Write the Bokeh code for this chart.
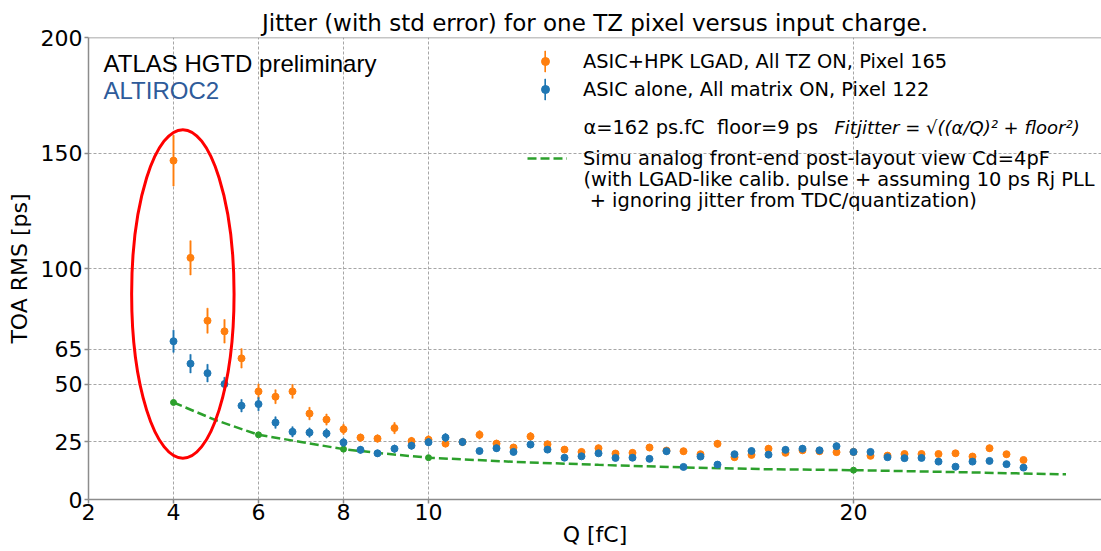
import math
from bokeh.plotting import figure
from bokeh.models import (Range1d, FixedTicker, Legend, LegendItem, Label, Span, Title,
                          ColumnDataSource)
from bokeh.embed import file_html
from bokeh.resources import INLINE

# ---------------- data ----------------
q_meas = [4.0, 4.4, 4.8, 5.2, 5.6, 6.0, 6.4, 6.8, 7.2, 7.6, 8.0, 8.4, 8.8, 9.2, 9.6, 10.0,
          10.4, 10.8, 11.2, 11.6, 12.0, 12.4, 12.8, 13.2, 13.6, 14.0, 14.4, 14.8, 15.2, 15.6,
          16.0, 16.4, 16.8, 17.2, 17.6, 18.0, 18.4, 18.8, 19.2, 19.6, 20.0, 20.4, 20.8, 21.2,
          21.6, 22.0, 22.4, 22.8, 23.2, 23.6, 24.0]

lgad_rms = [146.7, 104.6, 77.4, 72.8, 61.1, 46.8, 44.5, 46.8, 37.2, 34.6, 30.4, 26.8, 26.4, 30.9, 25.3, 25.9,
            24.2, 24.9, 28.0, 24.2, 22.5, 27.3, 23.9, 21.6, 20.6, 22.2, 19.9, 20.2, 22.5, 21.2,
            20.9, 19.6, 24.1, 18.3, 19.3, 22.0, 20.2, 21.3, 20.9, 20.5, 20.6, 18.9, 19.0, 19.7,
            19.7, 19.7, 20.0, 18.6, 22.2, 19.6, 17.1]
lgad_err = [11.0, 7.4, 5.4, 5.1, 4.2, 3.2, 3.0, 3.0, 2.7, 2.4, 2.2, 1.6, 1.6, 2.4, 1.6, 1.7,
            1.5, 1.5, 1.8, 1.5, 1.4, 1.7, 1.4, 1.3, 1.3, 1.4, 1.2, 1.2, 1.4, 1.3,
            1.3, 1.2, 1.5, 1.1, 1.2, 1.4, 1.2, 1.3, 1.3, 1.2, 1.2, 1.1, 1.1, 1.2,
            1.2, 1.2, 1.2, 1.1, 1.4, 1.2, 1.0]

asic_rms = [68.5, 58.8, 54.7, 50.0, 40.6, 41.3, 33.3, 29.3, 29.0, 28.6, 24.7, 21.5, 20.0, 22.0, 23.3, 24.8,
            26.8, 24.9, 21.0, 22.2, 20.6, 23.8, 21.6, 18.1, 18.7, 20.0, 18.0, 18.1, 17.6, 20.9,
            14.1, 18.6, 15.1, 19.6, 21.0, 19.4, 21.5, 22.0, 21.3, 23.1, 20.6, 20.6, 18.3, 17.9,
            18.0, 16.4, 14.2, 16.4, 16.7, 15.3, 13.8]
asic_err = [4.8, 4.0, 3.8, 2.9, 2.7, 2.9, 2.5, 2.2, 2.0, 2.0, 1.8, 1.5, 1.4, 1.6, 1.5, 1.6,
            1.8, 1.6, 1.3, 1.4, 1.3, 1.5, 1.3, 1.1, 1.1, 1.2, 1.1, 1.1, 1.0, 1.3,
            0.9, 1.1, 1.0, 1.2, 1.3, 1.2, 1.3, 1.4, 1.3, 1.4, 1.2, 1.2, 1.1, 1.1,
            1.1, 1.0, 0.9, 1.0, 1.0, 0.9, 0.9]

q_sim = [4, 5, 6, 7, 8, 9, 10, 12, 14, 16, 18, 20, 22, 25]
sim_rms = [42.0, 34.3, 28.0, 24.9, 21.8, 19.8, 18.1, 16.3, 15.0, 13.9, 13.1, 12.7, 12.0, 10.9]
q_sim_markers = [4, 6, 8, 10, 20]

x_ticks = [2, 4, 6, 8, 10, 20]
y_ticks = [0, 25, 50, 65, 100, 150, 200]

title_text = "Jitter (with std error) for one TZ pixel versus input charge."
label_lgad = "ASIC+HPK LGAD, All TZ ON, Pixel 165"
label_asic = "ASIC alone, All matrix ON, Pixel 122"
label_fit = "\u03b1=162 ps.fC \u00a0floor=9 ps"
label_fit_formula = "Fitjitter = \u221a((\u03b1/Q)\u00b2 + floor\u00b2)"
label_sim = ["Simu analog front-end post-layout view Cd=4pF",
             "(with LGAD-like calib. pulse + assuming 10 ps Rj PLL",
             "\u00a0+ ignoring jitter from TDC/quantization)"]

ORANGE = "#ff7f0e"
BLUE = "#1f77b4"
GREEN = "#2ca02c"
SPINE = "#8c8c8c"
FONT = "DejaVu Sans"

# ---------------- figure ----------------
p = figure(width=1101, height=551, output_backend="svg", toolbar_location=None,
           x_range=Range1d(2, 25.835), y_range=Range1d(0, 200),
           min_border_left=88, min_border_right=0, min_border_top=37, min_border_bottom=52)
p.outline_line_color = None
p.background_fill_color = "white"

p.title = Title(text=title_text, align="center", text_font=FONT, text_font_size="23px",
                text_font_style="normal", text_color="black", standoff=3)

for ax in (p.xaxis[0], p.yaxis[0]):
    ax.axis_line_color = SPINE
    ax.axis_line_width = 1.5
    ax.major_tick_line_color = SPINE
    ax.major_tick_line_width = 1.5
    ax.major_tick_out = 4
    ax.major_tick_in = 0
    ax.minor_tick_line_color = None
    ax.major_label_text_font = FONT
    ax.major_label_text_font_size = "22px"
    ax.major_label_text_color = "black"
    ax.axis_label_text_font = FONT
    ax.axis_label_text_font_size = "22px"
    ax.axis_label_text_font_style = "normal"
    ax.axis_label_text_color = "black"

p.xaxis.ticker = FixedTicker(ticks=x_ticks)
p.yaxis.ticker = FixedTicker(ticks=y_ticks)
p.xaxis.axis_label = "Q [fC]"
p.yaxis.axis_label = "TOA RMS [ps]"
p.xaxis.major_label_standoff = 0
p.xaxis.axis_label_standoff = -1
p.yaxis.major_label_standoff = 2
p.yaxis.axis_label_standoff = 6

p.xgrid.ticker = FixedTicker(ticks=x_ticks)
p.ygrid.ticker = FixedTicker(ticks=y_ticks)
for g in (p.xgrid[0], p.ygrid[0]):
    g.grid_line_color = "#a6a6a6"
    g.grid_line_width = 1
    g.grid_line_dash = "3 2"

p.add_layout(Span(location=200, dimension="width", line_color=SPINE, line_width=1.5))

# ---------------- data marks ----------------
sim_line = p.line(q_sim, sim_rms, line_color=GREEN, line_width=2.5, line_dash="9 4")
sim_pts_y = [sim_rms[q_sim.index(q)] for q in q_sim_markers]
p.scatter(q_sim_markers, sim_pts_y, size=6, color=GREEN)

lgad_src = ColumnDataSource(dict(q=q_meas, v=lgad_rms,
                                 lo=[v - e for v, e in zip(lgad_rms, lgad_err)],
                                 hi=[v + e for v, e in zip(lgad_rms, lgad_err)]))
asic_src = ColumnDataSource(dict(q=q_meas, v=asic_rms,
                                 lo=[v - e for v, e in zip(asic_rms, asic_err)],
                                 hi=[v + e for v, e in zip(asic_rms, asic_err)]))

# error bars drawn as very thin bars (so the legend can show them as vertical strokes)
lgad_bars = p.vbar(x="q", bottom="lo", top="hi", width=0.03, source=lgad_src,
                   fill_color=ORANGE, line_color=ORANGE, line_width=0.6)
lgad_pts = p.scatter("q", "v", source=lgad_src, size=7, color=ORANGE)
asic_bars = p.vbar(x="q", bottom="lo", top="hi", width=0.03, source=asic_src,
                   fill_color=BLUE, line_color=BLUE, line_width=0.6)
asic_pts = p.scatter("q", "v", source=asic_src, size=7, color=BLUE)

# highlight ellipse
ell_x, ell_y, ell_w, ell_h = 4.22, 89.0, 2.41, 142.3
p.ellipse(x=[ell_x], y=[ell_y], width=[ell_w], height=[ell_h], fill_color=None,
          line_color="red", line_width=3)

leg_bars = Legend(items=[LegendItem(label="\u00a0", renderers=[lgad_bars], index=0),
                         LegendItem(label="\u00a0", renderers=[asic_bars], index=0)],
                  location=(456, 397))
leg_bars.glyph_width = 2
leg_bars.glyph_height = 26
leg_bars.label_height = 26
leg_bars.spacing = 2
leg_bars.label_standoff = 0
leg_bars.label_width = 0

leg1 = Legend(items=[LegendItem(label=label_lgad, renderers=[lgad_pts]),
                     LegendItem(label=label_asic, renderers=[asic_pts])],
              location=(447, 398), orientation="vertical")
leg1.glyph_width = 20
leg1.label_standoff = 28
leg1.spacing = 4
leg1.glyph_height = 24
leg1.label_height = 24

leg2 = Legend(items=[LegendItem(label=label_sim[0], renderers=[sim_line])],
              location=(439, 329))
leg2.glyph_width = 40
leg2.label_standoff = 16
leg2.spacing = 4
leg2.glyph_height = 24
leg2.label_height = 24

for lg in (leg_bars, leg1, leg2):
    lg.border_line_color = None
    lg.background_fill_alpha = 0
    lg.padding = 0
    lg.margin = 0
    lg.label_text_font = FONT
    lg.label_text_font_size = "19.4px"
    lg.label_text_color = "black"
    lg.label_text_baseline = "middle"
    p.add_layout(lg)

# annotations (positions given in pixel-like coordinates converted to data space)
xpx = lambda px: 2 + (px - 88) / 42.5
ypx = lambda py: (499 - py) / 2.305

p.add_layout(Label(x=xpx(103), y=ypx(64), text="ATLAS HGTD preliminary", text_font="Liberation Sans",
                   text_font_size="24px", text_color="black", text_baseline="middle"))
p.add_layout(Label(x=xpx(103), y=ypx(91), text="ALTIROC2", text_font="Liberation Sans",
                   text_font_size="24px", text_color="#2e5b9a", text_baseline="middle"))

p.add_layout(Label(x=xpx(583), y=ypx(128), text=label_fit, text_font=FONT, text_font_size="19.4px",
                   text_color="black", text_baseline="middle"))
p.add_layout(Label(x=xpx(834), y=ypx(128), text=label_fit_formula, text_font=FONT, text_font_size="18px",
                   text_font_style="italic", text_color="black", text_baseline="middle"))
p.add_layout(Label(x=xpx(583), y=ypx(180), text=label_sim[1], text_font=FONT, text_font_size="19.4px",
                   text_color="black", text_baseline="middle"))
p.add_layout(Label(x=xpx(583), y=ypx(201), text=label_sim[2], text_font=FONT, text_font_size="19.4px",
                   text_color="black", text_baseline="middle"))

open("out.html", "w").write(file_html(p, INLINE))
